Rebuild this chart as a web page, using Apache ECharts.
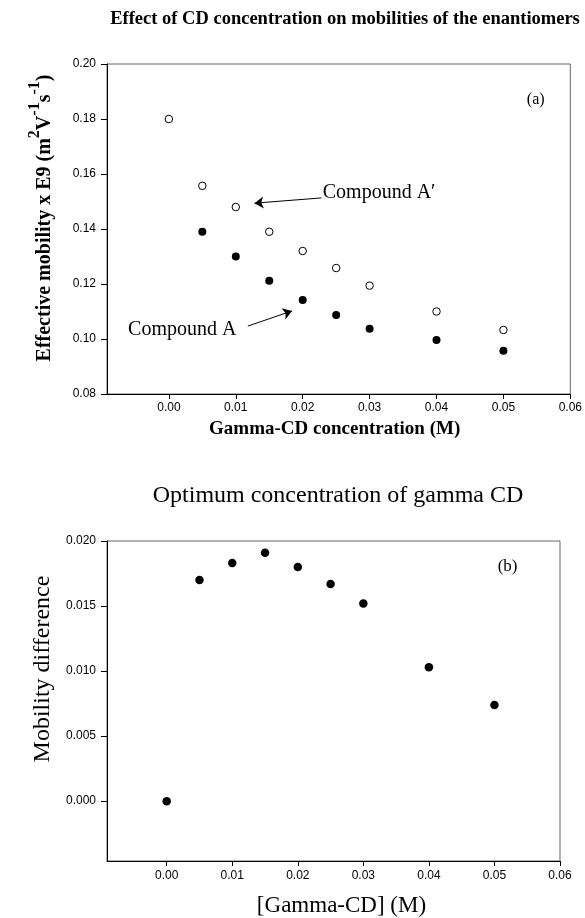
<!DOCTYPE html>
<html>
<head>
<meta charset="utf-8">
<script src="https://cdn.jsdelivr.net/npm/echarts@6/dist/echarts.min.js"></script>
<style>
html,body{margin:0;padding:0;background:#fff;}
#chart{width:585px;height:918px;}
</style>
</head>
<body>
<div id="chart"></div>
<script>
// ---- Data (panel a) ----
const concA = [0.005, 0.010, 0.015, 0.020, 0.025, 0.030, 0.040, 0.050];
const mobilityA = [0.139, 0.130, 0.1212, 0.1142, 0.1087, 0.1037, 0.0996, 0.0957];
const concAprime = [0.000, 0.005, 0.010, 0.015, 0.020, 0.025, 0.030, 0.040, 0.050];
const mobilityAprime = [0.180, 0.1557, 0.148, 0.139, 0.132, 0.1258, 0.1194, 0.110, 0.1033];
// ---- Data (panel b) ----
const concB = [0.000, 0.005, 0.010, 0.015, 0.020, 0.025, 0.030, 0.040, 0.050];
const mobilityDiff = [0.0000, 0.0170, 0.0183, 0.0191, 0.0180, 0.0167, 0.0152, 0.0103, 0.0074];
// ---- Tick labels ----
const xTicks = [0.00, 0.01, 0.02, 0.03, 0.04, 0.05, 0.06];
const yTicksA = [0.08, 0.10, 0.12, 0.14, 0.16, 0.18, 0.20];
const yTicksB = [0.000, 0.005, 0.010, 0.015, 0.020];

const serif = "'Liberation Serif', 'Times New Roman', serif";
const sans = "'Liberation Sans', Arial, sans-serif";

function zip(xs, ys) { return xs.map((x, i) => [x, ys[i]]); }

const chart = echarts.init(document.getElementById('chart'), null, {renderer: 'canvas'});

function xAxisCfg(gridIndex, min, name, nameStyle, nameGap, labelMargin) {
  return {
    type: 'value', gridIndex: gridIndex, min: min, max: 0.06,
    axisLine: {show: true, onZero: false, lineStyle: {color: '#000', width: 1}},
    axisTick: {show: true, inside: false, length: 5, lineStyle: {color: '#000'}, customValues: xTicks},
    axisLabel: {show: true, customValues: xTicks, margin: labelMargin, fontFamily: sans, fontSize: 12, color: '#000',
      formatter: v => v.toFixed(2)},
    splitLine: {show: false},
    name: name, nameLocation: 'middle', nameGap: nameGap, nameTextStyle: nameStyle
  };
}

const option = {
  animation: false,
  backgroundColor: '#fff',
  title: [
    {text: 'Effect of CD concentration on mobilities of the enantiomers', left: 340, top: 5, textAlign: 'center',
      textStyle: {fontFamily: serif, fontWeight: 'bold', fontSize: 18.5, color: '#000'}},
    {text: 'Optimum concentration of gamma CD', left: 333, top: 479, textAlign: 'center',
      textStyle: {fontFamily: serif, fontWeight: 'normal', fontSize: 24, color: '#000'}}
  ],
  grid: [
    {left: 107, right: 14, top: 64, bottom: 524, show: true, borderColor: '#666', borderWidth: 1, backgroundColor: 'transparent'},
    {left: 107, right: 25, top: 541, bottom: 55.5, show: true, borderColor: '#666', borderWidth: 1, backgroundColor: 'transparent'}
  ],
  xAxis: [
    xAxisCfg(0, -0.00925, 'Gamma-CD concentration (M)',
      {fontFamily: serif, fontWeight: 'bold', fontSize: 19, color: '#000', padding: [0, 8, 0, 0]}, 26, 8),
    xAxisCfg(1, -0.00911, '[Gamma-CD] (M)',
      {fontFamily: serif, fontWeight: 'normal', fontSize: 23, color: '#000', padding: [0, 0, 0, 16]}, 33, 9)
  ],
  yAxis: [
    {
      type: 'value', gridIndex: 0, min: 0.08, max: 0.20,
      axisLine: {show: true, onZero: false, lineStyle: {color: '#000', width: 1}},
      axisTick: {show: true, inside: false, length: 6, lineStyle: {color: '#000'}, customValues: yTicksA},
      axisLabel: {show: true, customValues: yTicksA, margin: 11, fontFamily: sans, fontSize: 12, color: '#000',
        formatter: v => v.toFixed(2)},
      splitLine: {show: false},
      name: '{n|Effective mobility x E9 (m}{s|2}{n|V}{s|-1}{n|s}{s|-1}{n|)}',
      nameLocation: 'middle', nameGap: 52, nameRotate: 90,
      nameTextStyle: {
        padding: [0, 0, 0, 22],
        rich: {
          n: {fontFamily: serif, fontWeight: 'bold', fontSize: 20, color: '#000', verticalAlign: 'bottom', lineHeight: 28},
          s: {fontFamily: serif, fontWeight: 'bold', fontSize: 16, color: '#000', verticalAlign: 'top', lineHeight: 28}
        }
      }
    },
    {
      type: 'value', gridIndex: 1, min: -0.0046, max: 0.020,
      axisLine: {show: true, onZero: false, lineStyle: {color: '#000', width: 1}},
      axisTick: {show: true, inside: false, length: 6, lineStyle: {color: '#000'}, customValues: yTicksB},
      axisLabel: {show: true, customValues: yTicksB, margin: 11, fontFamily: sans, fontSize: 12, color: '#000',
        formatter: v => v.toFixed(3)},
      splitLine: {show: false},
      name: 'Mobility difference', nameLocation: 'middle', nameGap: 52, nameRotate: 90,
      nameTextStyle: {fontFamily: serif, fontSize: 24, color: '#000', padding: [0, 0, 0, 64]}
    }
  ],
  series: [
    {
      name: "Compound A'", type: 'scatter', xAxisIndex: 0, yAxisIndex: 0,
      data: zip(concAprime, mobilityAprime), symbol: 'circle', symbolSize: 7.5,
      itemStyle: {color: '#fff', borderColor: '#000', borderWidth: 1, opacity: 1},
      markLine: {
        silent: true, symbolSize: 9, lineStyle: {color: '#000', width: 1, type: 'solid'},
        label: {show: false},
        data: [
          [{coord: [0.0228, 0.1513], symbol: 'none'}, {coord: [0.0128, 0.1494], symbol: 'arrow'}],
          [{coord: [0.0118, 0.1047], symbol: 'none'}, {coord: [0.0184, 0.1102], symbol: 'arrow'}]
        ]
      },
      markPoint: {
        silent: true, symbol: 'circle', symbolSize: 0,
        label: {show: true, position: [0, 0], align: 'left', verticalAlign: 'middle',
          fontFamily: serif, fontSize: 20, color: '#000', formatter: p => p.name},
        data: [
          {name: 'Compound A\u2032', coord: [0.0230, 0.1532]},
          {name: 'Compound A', coord: [-0.0061, 0.1035]},
          {name: '(a)', coord: [0.0535, 0.1869], label: {fontSize: 16}}
        ]
      }
    },
    {
      name: 'Compound A', type: 'scatter', xAxisIndex: 0, yAxisIndex: 0,
      data: zip(concA, mobilityA), symbol: 'circle', symbolSize: 8,
      itemStyle: {color: '#000', opacity: 1}
    },
    {
      name: 'Mobility difference', type: 'scatter', xAxisIndex: 1, yAxisIndex: 1,
      data: zip(concB, mobilityDiff), symbol: 'circle', symbolSize: 8.5,
      itemStyle: {color: '#000', opacity: 1},
      markPoint: {
        silent: true, symbol: 'circle', symbolSize: 0,
        label: {show: true, position: [0, 0], align: 'center', verticalAlign: 'middle',
          fontFamily: serif, fontSize: 17, color: '#000', formatter: p => p.name},
        data: [{name: '(b)', coord: [0.0520, 0.01805]}]
      }
    }
  ]
};
chart.setOption(option);
</script>
</body>
</html>
